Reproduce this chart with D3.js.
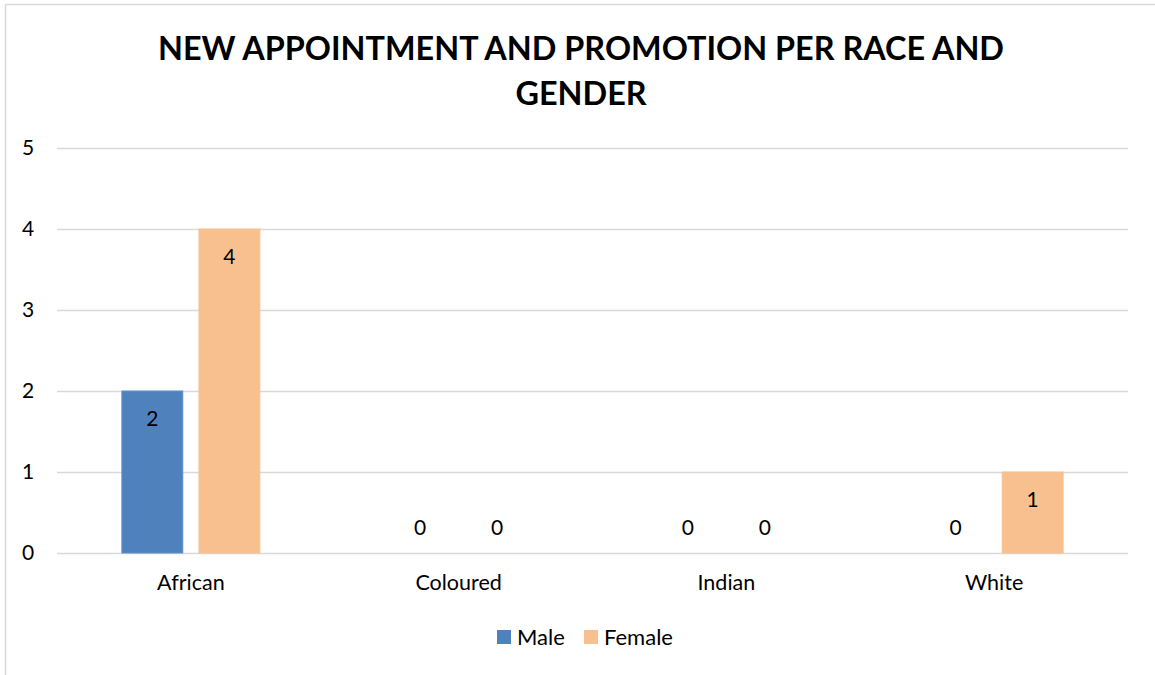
<!DOCTYPE html>
<html>
<head>
<meta charset="utf-8">
<script src="https://cdn.jsdelivr.net/npm/d3@7"></script>
<style>
  html, body { margin: 0; padding: 0; background: #ffffff; }
  svg { display: block; }
  text { font-family: Lato, "Open Sans", sans-serif; fill: #000; }
</style>
</head>
<body>
<svg id="chart" width="1155" height="675"></svg>
<script>
// Chart data
const categories = ["African", "Coloured", "Indian", "White"];
const seriesNames = ["Male", "Female"];
const maleValues = [2, 0, 0, 0];
const femaleValues = [4, 0, 0, 1];
const yTicks = [0, 1, 2, 3, 4, 5];
const titleLines = ["NEW APPOINTMENT AND PROMOTION PER RACE AND", "GENDER"];

const colors = { Male: "#4f81bd", Female: "#f9c08f" };
const strokeColors = { Male: "#5b8fd0", Female: "#f9c08f" };
const FONT = "Lato, 'Open Sans', sans-serif";

const svg = d3.select("#chart");
const W = 1155, H = 675;

// outer chart frame (left and top edges visible)
svg.append("rect")
  .attr("x", 5.5).attr("y", 4.5)
  .attr("width", W + 10).attr("height", H + 10)
  .attr("fill", "none").attr("stroke", "#d9d9d9").attr("stroke-width", 1.5);

const margin = { left: 57, right: 1128, top: 148, bottom: 553 };

const x0 = d3.scaleBand().domain(categories).range([margin.left, margin.right]).paddingInner(0).paddingOuter(0);
const x1 = d3.scaleBand().domain(seriesNames).range([0, 138]).paddingInner(0.21);
const y = d3.scaleLinear().domain([0, 5]).range([margin.bottom, margin.top]);

// title
const title = svg.append("g");
titleLines.forEach((line, i) => {
  title.append("text")
    .attr("x", 581).attr("y", 60 + i * 45)
    .attr("text-anchor", "middle")
    .attr("font-size", 32.4).attr("font-weight", 700)
    .text(line);
});

// gridlines
svg.append("g").selectAll("line").data(yTicks).join("line")
  .attr("x1", margin.left).attr("x2", margin.right)
  .attr("y1", d => y(d) + 0.5).attr("y2", d => y(d) + 0.5)
  .attr("stroke", "#d9d9d9").attr("stroke-width", 1.5);

// y-axis labels
const yAxis = svg.append("g").attr("transform", "translate(28,0)")
  .call(d3.axisLeft(y).tickValues(yTicks).tickFormat(d3.format("d")).tickSize(0).tickPadding(0));
yAxis.select(".domain").remove();
yAxis.selectAll("text").attr("font-size", 21).attr("fill", "#000")
  .attr("font-family", FONT).attr("text-anchor", "middle");

// x-axis labels
const xAxis = svg.append("g").attr("transform", `translate(0,${margin.bottom + 22})`)
  .call(d3.axisBottom(x0).tickSize(0).tickPadding(0));
xAxis.select(".domain").remove();
xAxis.selectAll("text").attr("font-size", 21.5).attr("fill", "#000")
  .attr("font-family", FONT).attr("dy", "0.71em");

// bars
const rows = categories.map((c, i) => ({
  category: c,
  values: [
    { key: "Male", value: maleValues[i] },
    { key: "Female", value: femaleValues[i] }
  ]
}));

const groups = svg.append("g").selectAll("g").data(rows).join("g")
  .attr("transform", d => `translate(${x0(d.category) + (x0.bandwidth() - 138) / 2},0)`);

groups.selectAll("rect").data(d => d.values).join("rect")
  .attr("x", d => x1(d.key))
  .attr("y", d => y(d.value))
  .attr("width", x1.bandwidth())
  .attr("height", d => y(0) - y(d.value))
  .attr("fill", d => colors[d.key])
  .attr("stroke", d => d.value > 0 ? strokeColors[d.key] : "none")
  .attr("stroke-width", 1);

groups.selectAll("text").data(d => d.values).join("text")
  .attr("x", d => x1(d.key) + x1.bandwidth() / 2)
  .attr("y", d => d.value > 0 ? y(d.value) + 28 : y(0) - 25)
  .attr("dy", "0.35em")
  .attr("text-anchor", "middle")
  .attr("font-size", 21)
  .text(d => d.value);

// legend
const legend = svg.append("g").attr("transform", "translate(497,637)");
const legendOffsets = [0, 87];
seriesNames.forEach((name, i) => {
  const g = legend.append("g").attr("transform", `translate(${legendOffsets[i]},0)`);
  g.append("rect").attr("x", 0).attr("y", -7).attr("width", 14).attr("height", 14)
    .attr("fill", colors[name]);
  g.append("text").attr("x", 20).attr("y", 0).attr("dy", "0.35em")
    .attr("font-size", 22).text(name);
});
</script>
</body>
</html>
